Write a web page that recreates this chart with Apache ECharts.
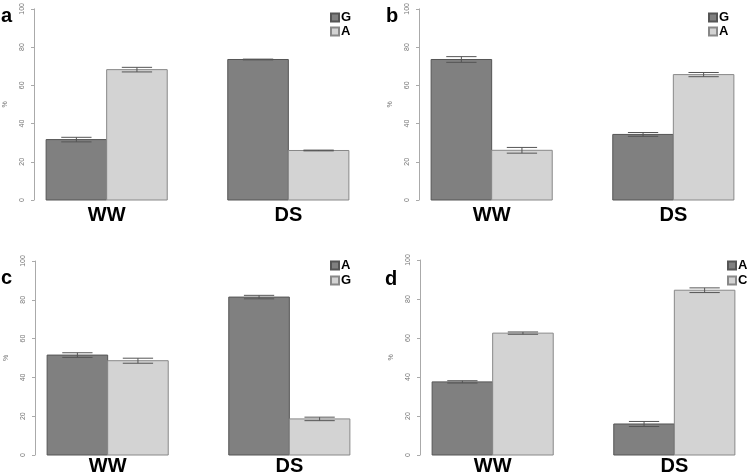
<!DOCTYPE html>
<html lang="en">
<head>
    <meta charset="UTF-8">
    <title>WW / DS proportions</title>
    <script src="https://cdn.jsdelivr.net/npm/echarts@6/dist/echarts.min.js"></script>
    <style>
        body {
            margin: 0;
            background-color: #fff;
        }
        #chart {
            width: 749px;
            height: 476px;
        }
    </style>
</head>
<body>
    <div id="chart"></div>

    <script>
        // groups on the x axis
        const groups = ['WW', 'DS'];
        const panelLetters = ['a', 'b', 'c', 'd'];

        // legend names (dark bar first, light bar second)
        const namesA = ['G', 'A'];
        const namesB = ['G', 'A'];
        const namesC = ['A', 'G'];
        const namesD = ['A', 'C'];

        // percentages, one value per group
        const darkA = [31.6, 73.5];
        const lightA = [68.2, 25.9];
        const darkErrA = [1.2, 0.2];
        const lightErrA = [1.2, 0.2];

        const darkB = [73.5, 34.3];
        const lightB = [26.0, 65.6];
        const darkErrB = [1.5, 1.0];
        const lightErrB = [1.5, 1.1];

        const darkC = [51.5, 81.4];
        const lightC = [48.6, 18.6];
        const darkErrC = [1.2, 0.9];
        const lightErrC = [1.3, 0.9];

        const darkD = [37.5, 15.9];
        const lightD = [62.5, 84.5];
        const darkErrD = [0.6, 1.3];
        const lightErrD = [0.6, 1.2];

        const yTicks = [0, 20, 40, 60, 80, 100];

        const panels = [
            { names: namesA, dark: darkA, light: lightA, darkErr: darkErrA, lightErr: lightErrA },
            { names: namesB, dark: darkB, light: lightB, darkErr: darkErrB, lightErr: lightErrB },
            { names: namesC, dark: darkC, light: lightC, darkErr: darkErrC, lightErr: lightErrC },
            { names: namesD, dark: darkD, light: lightD, darkErr: darkErrD, lightErr: lightErrD }
        ];

        // layout of the four panels
        const layout = [
            { left: 34, top: 5, width: 327, labelMargin: 5, letterLeft: 1, letterTop: 6, legendLeft: 330, legendTop: 11, legendGap: 1 },
            { left: 419, top: 5, width: 327, labelMargin: 5, letterLeft: 386, letterTop: 6, legendLeft: 708, legendTop: 11, legendGap: 1 },
            { left: 35, top: 261, width: 327, labelMargin: 1, letterLeft: 1, letterTop: 268, legendLeft: 330, legendTop: 259, legendGap: 2 },
            { left: 420, top: 260, width: 327, labelMargin: 1, letterLeft: 385, letterTop: 269, legendLeft: 727, legendTop: 259, legendGap: 2 }
        ];

        const DARK = '#808080';
        const LIGHT = '#d3d3d3';
        const FONT = 'Liberation Sans, Arial, sans-serif';

        // R barplot style positions: bar k of group g spans [1+3g+k, 2+3g+k]
        function makeRenderer(slot, fill, stroke) {
            return function (params, api) {
                const g = api.value(0);
                const v = api.value(1);
                const e = api.value(2);
                const x0 = 1 + 3 * g + slot;
                const p0 = api.coord([x0, v]);
                const p1 = api.coord([x0 + 1, 0]);
                const xc = x0 + 0.5;
                const top = api.coord([xc, v + e]);
                const bot = api.coord([xc, v - e]);
                const capL = api.coord([xc - 0.25, 0])[0];
                const capR = api.coord([xc + 0.25, 0])[0];
                const errStyle = { stroke: '#555', lineWidth: 1 };
                return {
                    type: 'group',
                    children: [
                        {
                            type: 'rect',
                            shape: { x: p0[0], y: p0[1], width: p1[0] - p0[0], height: p1[1] - p0[1] },
                            style: { fill: fill, stroke: stroke, lineWidth: 1 }
                        },
                        { type: 'line', shape: { x1: top[0], y1: top[1], x2: bot[0], y2: bot[1] }, style: errStyle },
                        { type: 'line', shape: { x1: capL, y1: top[1], x2: capR, y2: top[1] }, style: errStyle },
                        { type: 'line', shape: { x1: capL, y1: bot[1], x2: capR, y2: bot[1] }, style: errStyle }
                    ]
                };
            };
        }

        const grid = [], xAxis = [], yAxis = [], series = [], legend = [], title = [];

        panels.forEach(function (p, i) {
            const L = layout[i];
            grid.push({ left: L.left, top: L.top, width: L.width, height: 195 });

            xAxis.push({
                gridIndex: i,
                type: 'value',
                min: 0.8,
                max: 6.2,
                axisLine: { show: false },
                axisTick: { show: false },
                splitLine: { show: false },
                axisLabel: {
                    customValues: groups.map(function (_, g) { return 2 + 3 * g; }),
                    formatter: function (v) { return groups[Math.round((v - 2) / 3)]; },
                    fontSize: 20,
                    fontWeight: 'bold',
                    fontFamily: FONT,
                    color: '#000',
                    margin: L.labelMargin
                }
            });

            yAxis.push({
                gridIndex: i,
                type: 'value',
                min: yTicks[0],
                max: yTicks[yTicks.length - 1],
                interval: 20,
                name: '%',
                nameLocation: 'middle',
                nameGap: 25,
                nameTextStyle: { fontSize: 7, color: '#777', fontFamily: FONT },
                axisLine: { show: true, lineStyle: { color: '#aaa' } },
                axisTick: { show: true, length: 3, lineStyle: { color: '#aaa' } },
                splitLine: { show: false },
                axisLabel: { rotate: 90, fontSize: 7, color: '#777', margin: 8, fontFamily: FONT }
            });

            const darkName = panelLetters[i] + '-' + p.names[0];
            const lightName = panelLetters[i] + '-' + p.names[1];

            series.push({
                type: 'custom',
                name: darkName,
                xAxisIndex: i,
                yAxisIndex: i,
                itemStyle: { color: DARK, borderColor: '#555', borderWidth: 1 },
                encode: { x: 0, y: 1 },
                renderItem: makeRenderer(0, DARK, '#555'),
                data: groups.map(function (_, g) { return [g, p.dark[g], p.darkErr[g]]; })
            });
            series.push({
                type: 'custom',
                name: lightName,
                xAxisIndex: i,
                yAxisIndex: i,
                itemStyle: { color: LIGHT, borderColor: '#888', borderWidth: 1 },
                encode: { x: 0, y: 1 },
                renderItem: makeRenderer(1, LIGHT, '#888'),
                data: groups.map(function (_, g) { return [g, p.light[g], p.lightErr[g]]; })
            });

            legend.push({
                data: [darkName, lightName],
                orient: 'vertical',
                left: L.legendLeft,
                top: L.legendTop,
                padding: 0,
                itemGap: L.legendGap,
                itemWidth: 8,
                itemHeight: 8,
                icon: 'rect',
                selectedMode: false,
                formatter: function (name) { return name.split('-')[1]; },
                textStyle: { fontSize: 13, fontWeight: 'bold', color: '#000', fontFamily: FONT, padding: [0, 0, 0, -3] }
            });

            title.push({
                text: panelLetters[i],
                left: L.letterLeft,
                top: L.letterTop,
                padding: 0,
                textStyle: { fontSize: 20, fontWeight: 'bold', color: '#000', fontFamily: FONT }
            });
        });

        const chart = echarts.init(document.getElementById('chart'), null, { renderer: 'canvas' });
        chart.setOption({
            animation: false,
            title: title,
            legend: legend,
            grid: grid,
            xAxis: xAxis,
            yAxis: yAxis,
            series: series
        });
    </script>
</body>
</html>
